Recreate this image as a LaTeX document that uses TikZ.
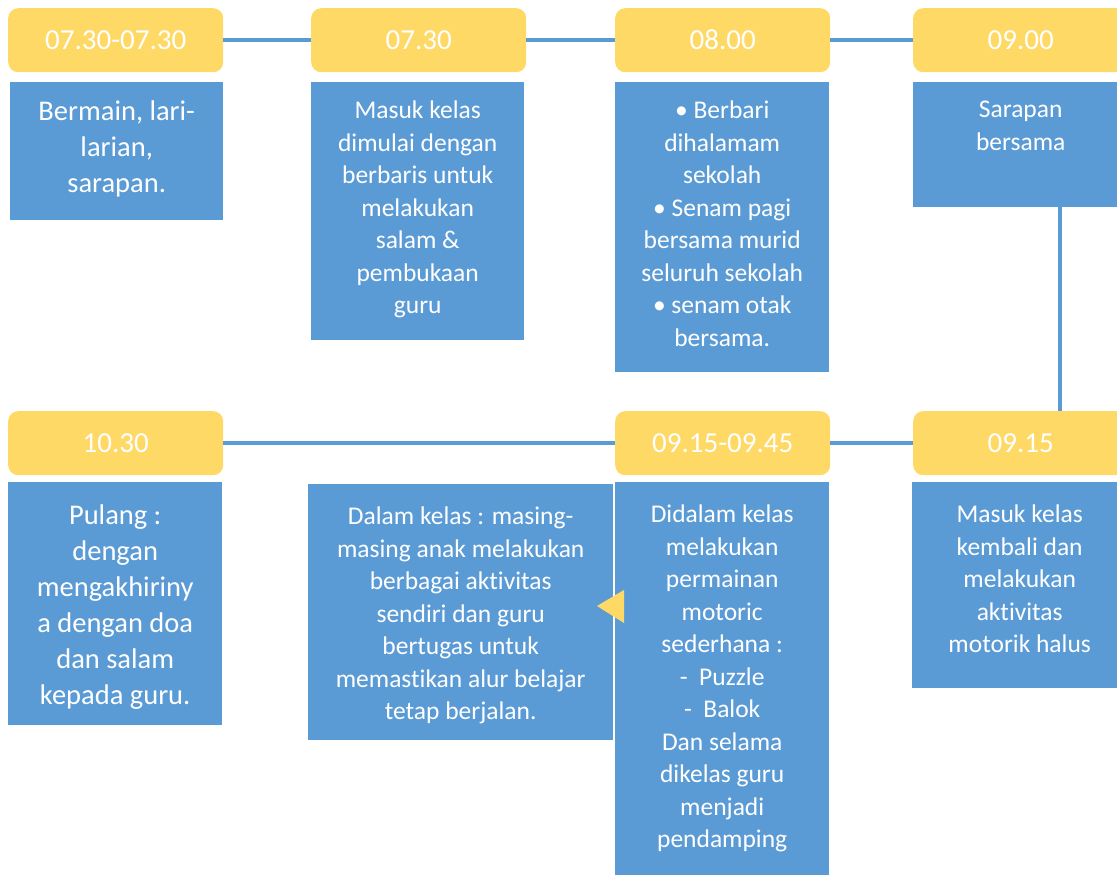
\documentclass[tikz,border=0pt]{standalone}
\usepackage{fontspec}
\setmainfont{Carlito}[Ligatures=NoCommon]
\definecolor{slotyellow}{HTML}{FFD966}
\definecolor{slotblue}{HTML}{5B9BD5}

\begin{document}
\begin{tikzpicture}[x=1pt, y=-1pt,
        jam/.style = {fill=slotyellow, rounded corners=10pt, minimum width=215pt,
            minimum height=64pt, anchor=north west, inner sep=0pt, text=white,
            font=\fontsize{29}{35}\selectfont},
        isi/.style = {fill=slotblue, anchor=north west, inner sep=0pt},
        isitext/.style = {anchor=north, inner sep=0pt, yshift=-19pt, text=white,
            align=center, font=\fontsize{25.5}{32.5}\selectfont},
        besar/.style = {font=\fontsize{28.5}{36}\selectfont},
        garis/.style = {draw=slotblue, line width=4pt}
        ]
    \useasboundingbox (0,0) rectangle (1117,875);

    % top row
    \node[jam] (h1) at (8,8) {07.30-07.30};
    \node[jam] (h2) at (311,8) {07.30};
    \node[jam] (h3) at (615,8) {08.00};
    \node[jam] (h4) at (913,8) {09.00};

    \node[isi, minimum width=213pt, minimum height=138pt] (b1) at (10,82) {};
    \node[isi, minimum width=213pt, minimum height=258pt] (b2) at (311,82) {};
    \node[isi, minimum width=214pt, minimum height=290pt] (b3) at (615,82) {};
    \node[isi, minimum width=215pt, minimum height=125pt] (b4) at (913,82) {};

    \node[isitext, besar] (t1) at (b1.north) {Bermain, lari-\\larian,\\sarapan.};
    \node[isitext] (t2) at (b2.north) {Masuk kelas\\dimulai dengan\\berbaris untuk\\melakukan\\salam \&\\pembukaan\\guru};
    \node[isitext] (t3) at (b3.north) {• Berbari\\dihalamam\\sekolah\\• Senam pagi\\bersama murid\\seluruh sekolah\\• senam otak\\bersama.};
    \node[isitext] (t4) at (b4.north) {Sarapan\\bersama};

    % bottom row
    \node[jam] (h5) at (8,411) {10.30};
    \node[jam] (h6) at (615,411) {09.15-09.45};
    \node[jam] (h7) at (913,411) {09.15};

    \node[isi, minimum width=214pt, minimum height=243pt] (b5) at (8,482) {};
    \node[isi, minimum width=305pt, minimum height=256pt] (b6) at (308,484) {};
    \node[isi, minimum width=214pt, minimum height=400pt] (b7) at (615,482) {};
    \node[isi, minimum width=215pt, minimum height=206pt] (b8) at (912,482) {};

    \node[isitext, besar, yshift=-4pt] (t5) at (b5.north) {Pulang :\\dengan\\mengakhiriny\\a dengan doa\\dan salam\\kepada guru.};
    \node[isitext, yshift=-4pt] (t6) at (b6.north) {Dalam kelas : masing-\\masing anak melakukan\\berbagai aktivitas\\sendiri dan guru\\bertugas untuk\\memastikan alur belajar\\tetap berjalan.};
    \node[isitext, yshift=-4pt] (t7) at (b7.north) {Didalam kelas\\melakukan\\permainan\\motoric\\sederhana :\\-\ \ Puzzle\\-\ \ Balok\\Dan selama\\dikelas guru\\menjadi\\pendamping};
    \node[isitext, yshift=-4pt] (t8) at (b8.north) {Masuk kelas\\kembali dan\\melakukan\\aktivitas\\motorik halus};

    % connectors
    \draw[garis] (h1) -- (h2);
    \draw[garis] (h2) -- (h3);
    \draw[garis] (h3) -- (h4);
    \draw[garis] ([xshift=39pt]b4.south) -- ([xshift=39pt]b4.south |- h7.north);
    \draw[garis] (h7) -- (h6);
    \draw[garis] (h6) -- (h5);

    % arrow into the class box
    \fill[slotyellow] (597,606) -- (624,590) -- (624,623) -- cycle;
\end{tikzpicture}
\end{document}
